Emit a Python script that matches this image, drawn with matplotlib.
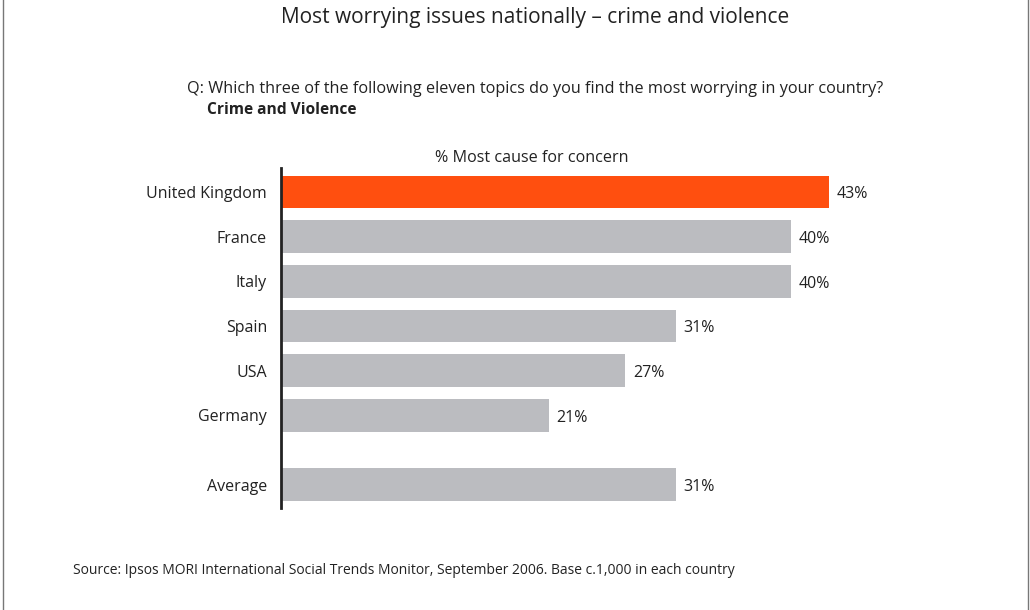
import numpy as np
import matplotlib
matplotlib.use('Agg')
import matplotlib.pyplot as plt
from matplotlib.lines import Line2D

plt.rcParams['font.family'] = ['Open Sans', 'DejaVu Sans']

# data
countries = ['United Kingdom', 'France', 'Italy', 'Spain', 'USA', 'Germany', 'Average']
values = [43, 40, 40, 31, 27, 21, 31]
positions = [0, 1, 2, 3, 4, 5, 6.55]
colors = ['#FF4F0F'] + ['#BBBCC0'] * 6

txt = '#222222'

fig = plt.figure(figsize=(10.3, 6.1), dpi=100)
ax = fig.add_axes([281 / 1030, 1 - 508 / 610, 701 / 1030, 340 / 610])

ax.barh(positions, values, height=0.73, color=colors)
for p, v in zip(positions, values):
    ax.text(v + 0.6, p + 0.05, f'{v}%', va='center', ha='left', fontsize=11.5, color=txt)

ax.set_xlim(0, 55)
ax.set_ylim(7.07, -0.537)
ax.set_yticks(positions)
ax.set_yticklabels(countries, fontsize=11.5, color=txt)
ax.tick_params(axis='y', length=0, pad=10)
ax.set_xticks([])
for s in ['top', 'right', 'bottom']:
    ax.spines[s].set_visible(False)
ax.spines['left'].set_linewidth(2)
ax.spines['left'].set_color('#222222')

# texts
fig.text(535 / 1030, 1 - 18 / 610, 'Most worrying issues nationally \u2013 crime and violence',
         ha='center', va='center', fontsize=15, color=txt)
fig.text(187 / 1030, 1 - 89 / 610,
         'Q: Which three of the following eleven topics do you find the most worrying in your country?',
         ha='left', va='center', fontsize=11.7, color=txt)
fig.text(207 / 1030, 1 - 110 / 610, 'Crime and Violence',
         ha='left', va='center', fontsize=11.2, fontweight='bold', color=txt)
fig.text(532 / 1030, 1 - 158 / 610, '% Most cause for concern',
         ha='center', va='center', fontsize=11.6, color=txt)
fig.text(73 / 1030, 1 - 571 / 610,
         'Source: Ipsos MORI International Social Trends Monitor, September 2006. Base c.1,000 in each country',
         ha='left', va='center', fontsize=10, color=txt)

# frame lines left and right
fig.add_artist(Line2D([3 / 1030, 3 / 1030], [0, 1], color='#777777', lw=1))
fig.add_artist(Line2D([1028 / 1030, 1028 / 1030], [0, 1], color='#777777', lw=1))

fig.savefig('out.png', dpi=100)
